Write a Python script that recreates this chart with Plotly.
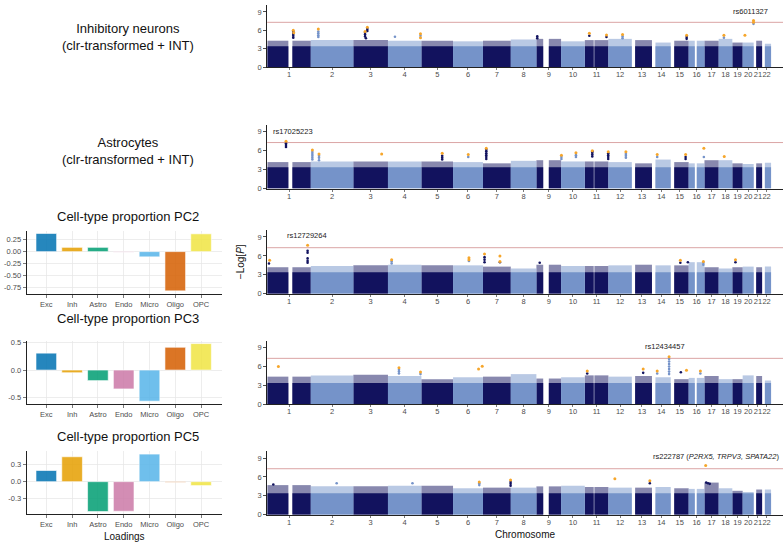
import plotly.graph_objects as go

W, H = 783, 549

# ---------------- data ----------------
chrom_labels = [str(i) for i in range(1, 23)]
chrom_len = [249.25, 243.2, 198.0, 191.15, 180.9, 171.1, 159.1, 146.4, 141.2, 135.5, 135.0,
             133.85, 115.2, 107.35, 102.5, 90.35, 81.2, 78.1, 59.1, 63.0, 48.1, 51.3]
# genotyped stretches per chromosome (Mb); gaps = centromeres / acrocentric arms
chrom_segments = [
    [(0.7, 121.0), (144.0, 249.2)], [(0.01, 243.2)], [(0.05, 198.0)], [(0.05, 191.1)],
    [(0.05, 180.9)], [(0.1, 171.1)], [(0.05, 159.1)], [(0.15, 146.4)],
    [(0.1, 39.0), (71.0, 141.2)], [(0.1, 135.5)], [(0.2, 51.0), (55.0, 135.0)], [(0.1, 133.8)],
    [(19.0, 115.2)], [(20.0, 107.3)], [(20.0, 102.5)], [(0.1, 35.0), (46.5, 90.3)],
    [(0.0, 81.2)], [(0.1, 78.1)], [(0.2, 59.1)], [(0.1, 63.0)], [(14.5, 48.1)], [(16.0, 51.3)],
]
dense_level = 3.4   # -log10 P up to which the cloud of SNPs is solid

fringe_inh = [4.3, 4.4, 4.4, 4.3, 4.3, 4.2, 4.3, 4.5, 4.6, 4.2, 4.4, 4.6, 4.4, 4.0, 4.3, 4.3, 4.3, 4.6, 4.0, 4.0, 4.3, 3.8]
fringe_ast = [4.2, 4.3, 4.3, 4.3, 4.3, 4.2, 4.0, 4.4, 4.5, 4.3, 4.3, 4.2, 4.0, 4.6, 4.2, 4.0, 4.5, 4.5, 4.0, 3.9, 4.0, 4.1]
fringe_pc2 = [4.2, 4.4, 4.5, 4.6, 4.5, 4.5, 4.3, 4.0, 4.6, 4.4, 4.4, 4.5, 4.6, 4.5, 4.5, 5.0, 4.2, 4.0, 4.2, 4.3, 4.2, 4.3]
fringe_pc3 = [4.4, 4.6, 4.7, 4.5, 4.0, 4.3, 4.4, 4.8, 4.1, 4.3, 4.6, 4.4, 4.5, 4.3, 4.0, 4.2, 4.5, 4.0, 4.0, 4.6, 4.5, 3.8]
fringe_pc5 = [4.7, 4.5, 4.5, 4.6, 4.6, 4.2, 4.3, 4.3, 4.5, 4.6, 4.4, 4.3, 4.3, 4.4, 4.2, 4.1, 5.1, 4.2, 3.8, 3.6, 4.0, 4.0]

# (chromosome, position Mb, -log10 P, lead SNP?)
peaks_inh = [
    (1, 149, 5.75, 0), (1, 149, 5.4, 0), (1, 149, 5.1, 0), (1, 149, 4.8, 0), (1, 149, 6.0, 1), (1, 152, 5.6, 1),
    (2, 43, 5.8, 0), (2, 43, 5.5, 0), (2, 43, 5.2, 0), (2, 43, 4.9, 0), (2, 43, 6.2, 1),
    (3, 67, 5.6, 0), (3, 67, 5.3, 0), (3, 67, 5.0, 0), (3, 80, 6.2, 0), (3, 80, 5.9, 0), (3, 72, 4.7, 0),
    (3, 80, 6.5, 1), (3, 67, 5.8, 1),
    (4, 40, 4.95, 0), (4, 186, 5.1, 0), (4, 186, 5.45, 1), (4, 186, 4.8, 1),
    (9, 5, 5.0, 0), (9, 5, 4.7, 0),
    (11, 26, 5.1, 0), (11, 26, 5.5, 1), (11, 124, 4.9, 0), (11, 124, 5.25, 1),
    (12, 81, 5.0, 0), (12, 81, 4.7, 0), (12, 81, 5.3, 1),
    (15, 91, 4.9, 0), (15, 91, 4.6, 0), (15, 91, 5.2, 1),
    (18, 30, 4.8, 0), (18, 30, 5.2, 1), (20, 13, 5.2, 1),
    (20, 62, 7.05, 0), (20, 62, 7.6, 1), (20, 62, 7.3, 1),
]
peaks_ast = [
    (1, 107.5, 7.2, 0), (1, 107.5, 6.9, 0), (1, 107.5, 6.6, 0), (1, 107.5, 7.5, 1),
    (2, 9, 5.8, 0), (2, 9, 5.5, 0), (2, 9, 5.2, 0), (2, 9, 4.9, 0), (2, 9, 4.6, 0), (2, 9, 6.1, 1),
    (2, 47, 5.2, 0), (2, 47, 4.9, 0), (2, 47, 4.5, 0), (2, 47, 5.5, 1),
    (3, 162, 5.5, 1),
    (5, 119, 5.2, 0), (5, 119, 4.9, 0), (5, 119, 4.6, 0), (5, 119, 5.6, 1),
    (6, 87, 5.0, 0), (6, 87, 5.4, 1),
    (7, 19, 6.15, 0), (7, 19, 5.9, 0), (7, 19, 5.6, 0), (7, 19, 5.3, 0), (7, 19, 5.0, 0), (7, 19, 4.7, 0), (7, 19, 6.4, 1),
    (10, 2, 5.0, 0), (10, 2, 4.7, 0), (10, 2, 5.3, 1),
    (10, 85, 5.3, 0), (10, 85, 5.0, 0), (10, 85, 5.7, 1),
    (11, 43, 5.9, 0), (11, 43, 5.7, 0), (11, 43, 5.4, 0), (11, 43, 5.1, 0), (11, 43, 6.0, 1),
    (11, 134, 5.6, 0), (11, 134, 5.3, 0), (11, 134, 5.0, 0), (11, 134, 4.7, 0), (11, 134, 5.85, 1),
    (12, 100, 5.5, 0), (12, 100, 5.2, 0), (12, 100, 4.9, 0), (12, 100, 5.85, 1),
    (14, 30, 5.0, 0), (14, 30, 5.4, 1),
    (15, 85, 5.0, 0), (15, 85, 4.7, 0), (15, 85, 5.4, 1),
    (16, 87, 5.0, 0), (16, 87, 6.4, 1), (18, 32, 5.1, 1),
]
peaks_pc2 = [
    (1, 10, 4.8, 0), (1, 14, 5.3, 1),
    (1, 231, 6.8, 0), (1, 231, 6.5, 0), (1, 231, 5.6, 0), (1, 231, 5.2, 0), (1, 231, 4.9, 0), (1, 231, 7.7, 1),
    (4, 21, 5.1, 0), (4, 21, 4.8, 0), (4, 21, 5.4, 1),
    (6, 91, 5.2, 0), (6, 91, 5.7, 1), (6, 91, 5.4, 1),
    (7, 9, 5.8, 0), (7, 9, 5.4, 0), (7, 9, 5.0, 0), (7, 9, 6.3, 1),
    (7, 97, 5.0, 0), (7, 97, 6.0, 1), (7, 97, 5.1, 1),
    (9, 19, 4.9, 0),
    (15, 55, 4.9, 0), (15, 55, 5.3, 1), (15, 98, 5.0, 0),
    (16, 84, 4.9, 0), (16, 84, 4.6, 0), (16, 84, 5.1, 1),
    (19, 18, 5.0, 0), (19, 18, 5.4, 1),
]
peaks_pc3 = [
    (1, 64, 6.0, 1),
    (4, 63, 5.5, 0), (4, 63, 5.2, 0), (4, 63, 4.9, 0), (4, 63, 5.8, 1),
    (4, 186, 4.8, 0), (4, 186, 5.15, 1),
    (6, 146, 5.6, 1), (6, 167, 6.05, 1),
    (11, 14, 4.9, 0), (11, 14, 5.3, 1),
    (13, 65, 5.0, 0), (13, 65, 5.6, 1),
    (14, 30, 4.9, 0), (14, 30, 5.3, 1),
    (14, 98, 7.2, 0), (14, 98, 6.8, 0), (14, 98, 6.4, 0), (14, 98, 6.0, 0), (14, 98, 5.6, 0),
    (14, 98, 5.2, 0), (14, 98, 4.8, 0), (14, 98, 7.55, 1),
    (15, 58, 5.1, 0), (15, 90, 5.4, 1),
    (16, 67, 4.9, 0), (16, 67, 5.3, 1),
]
peaks_pc5 = [
    (1, 35, 4.8, 0), (2, 148, 5.0, 0), (4, 140, 5.0, 0),
    (6, 150, 5.0, 0), (6, 150, 4.7, 0), (6, 150, 5.2, 1),
    (7, 158, 5.2, 0), (7, 158, 4.9, 0), (7, 158, 4.6, 0), (7, 158, 5.5, 1),
    (12, 37, 5.7, 1),
    (13, 103, 5.0, 0), (13, 103, 5.4, 1),
    (17, 10, 5.1, 0), (17, 20, 5.0, 0), (17, 30, 4.9, 0), (17, 7, 7.8, 1),
]
fringes = [fringe_inh, fringe_ast, fringe_pc2, fringe_pc3, fringe_pc5]
peaks = [peaks_inh, peaks_ast, peaks_pc2, peaks_pc3, peaks_pc5]
gw_threshold = 7.3
lead_labels = ["rs6011327", "rs17025223", "rs12729264", "rs12434457",
               "rs222787 (<i>P2RX5, TRPV3, SPATA22</i>)"]
row_titles = ["Inhibitory neurons<br>(clr-transformed + INT)", "Astrocytes<br>(clr-transformed + INT)"]

cell_types = ["Exc", "Inh", "Astro", "Endo", "Micro", "Oligo", "OPC"]
pc2 = [0.382, 0.09, 0.09, -0.01, -0.11, -0.826, 0.375]
pc3 = [0.304, -0.048, -0.19, -0.34, -0.56, 0.41, 0.476]
pc5 = [0.196, 0.438, -0.525, -0.52, 0.485, -0.01, -0.069]
pc_titles = ["Cell-type proportion PC2", "Cell-type proportion PC3", "Cell-type proportion PC5"]
pc_ticks = [[0.25, 0.0, -0.25, -0.5, -0.75], [0.5, 0.0, -0.5], [0.3, 0.0, -0.3]]
pc_ticktext = [["0.25", "0.00", "-0.25", "-0.50", "-0.75"], ["0.5", "0.0", "-0.5"], ["0.3", "0.0", "-0.3"]]
pc_ranges = [[-0.886, 0.442], [-0.612, 0.528], [-0.576, 0.536]]

# ---------------- styles / layout ----------------
FONT = "Liberation Sans, Arial, sans-serif"
DARK = "#12135f"
LIGHT = "#7593c9"
ORANGE = "#f6a62b"
CELL_COLORS = ["#0072B2", "#E69F00", "#009E73", "#CC79A7", "#56B4E9", "#D55E00", "#F0E442"]
AX = "#222222"
TICKC = "#4d4d4d"

def fx(p):
    return p / W

def fy(p):
    return 1 - p / H

man_x0 = 267.2
man_rows = [(2.2, 65.0), (123.7, 188.3), (230.4, 295.0), (342.7, 407.3), (454.7, 519.3)]
man_xrange = [0, (W - man_x0) / 0.1749]
bar_x = (26.7, 221.7)
bar_rows = [(231.0, 295.0), (342.7, 407.0), (454.8, 519.0)]
label_pos = [(750.5, 9), (293, 130.7), (306.7, 236), (665, 349)]
label5_right = (781, 460)
title_x = 128
row_title_y = [35, 150]
pc_title_y = [217, 320, 440]
fringe_opacity = 0.5

offsets = []
acc = 0.0
for L in chrom_len:
    offsets.append(acc)
    acc += L
centers = [o + L / 2 for o, L in zip(offsets, chrom_len)]

fig = go.Figure()
layout = dict(width=W, height=H, margin=dict(l=0, r=0, t=0, b=0), autosize=False,
              paper_bgcolor="white", plot_bgcolor="white", showlegend=False,
              barmode="overlay", font=dict(family=FONT, color="#000"))
shapes = []
annotations = []

for p in range(5):
    n = p + 1
    xa = "x" if n == 1 else f"x{n}"
    ya = "y" if n == 1 else f"y{n}"
    fr = fringes[p]
    for parity, col in [(0, DARK), (1, LIGHT)]:
        xs, ws, hfr = [], [], []
        for ci in range(22):
            if ci % 2 != parity:
                continue
            for a, b in chrom_segments[ci]:
                xs.append(offsets[ci] + (a + b) / 2)
                ws.append(b - a)
                hfr.append(fr[ci])
        # sparse upper fringe (drawn first, from 0 so no seam), then the solid core
        fig.add_trace(go.Bar(x=xs, y=hfr, width=ws, base=0, xaxis=xa, yaxis=ya,
                             marker=dict(color=col, line=dict(width=0)), opacity=fringe_opacity,
                             hoverinfo="skip"))
        fig.add_trace(go.Bar(x=xs, y=[dense_level] * len(xs), width=ws, base=0, xaxis=xa, yaxis=ya,
                             marker=dict(color=col, line=dict(width=0)), opacity=1.0,
                             hoverinfo="skip"))
    # peak points
    for lead in (0, 1):
        px_, py_, pc_ = [], [], []
        for c, pos, v, ld in peaks[p]:
            if ld != lead:
                continue
            px_.append(offsets[c - 1] + pos)
            py_.append(v)
            pc_.append(ORANGE if ld else (DARK if (c - 1) % 2 == 0 else LIGHT))
        fig.add_trace(go.Scatter(x=px_, y=py_, mode="markers", xaxis=xa, yaxis=ya,
                                 marker=dict(color=pc_, size=3.0 if lead else 2.6, line=dict(width=0)),
                                 hoverinfo="skip"))
    top, bot = man_rows[p]
    axkey = "xaxis" if n == 1 else f"xaxis{n}"
    aykey = "yaxis" if n == 1 else f"yaxis{n}"
    layout[axkey] = dict(domain=[fx(man_x0), 1], range=man_xrange, anchor=ya,
                         tickmode="array", tickvals=centers, ticktext=chrom_labels, tickangle=0,
                         showgrid=False, zeroline=False, showline=True, linecolor=AX, linewidth=1,
                         ticks="outside", ticklen=2, tickcolor=AX, tickwidth=0.6,
                         ticklabelstandoff=-2,
                         tickfont=dict(size=7.5, color=TICKC, family=FONT))
    layout[aykey] = dict(domain=[fy(bot), fy(top)], range=[0, 10.1], anchor=xa,
                         tickmode="array", tickvals=[0, 3, 6, 9],
                         showgrid=False, zeroline=False, showline=True, linecolor=AX, linewidth=1,
                         ticks="outside", ticklen=3, tickcolor=AX, tickwidth=0.8,
                         tickfont=dict(size=7.5, color=TICKC, family=FONT))
    shapes.append(dict(type="line", xref=f"{xa} domain", yref=ya, x0=0, x1=1,
                       y0=gw_threshold, y1=gw_threshold, line=dict(color="#dba5a5", width=1.0),
                       layer="below"))
    if p < 4:
        lx, ly = label_pos[p]
        annotations.append(dict(text=lead_labels[p], x=fx(lx), y=fy(ly), xref="paper", yref="paper",
                                showarrow=False, xanchor="center", yanchor="middle",
                                font=dict(size=7.5, color="#222", family=FONT)))
    else:
        lx, ly = label5_right
        annotations.append(dict(text=lead_labels[p], x=fx(lx), y=fy(ly), xref="paper", yref="paper",
                                showarrow=False, xanchor="right", yanchor="middle",
                                font=dict(size=7.5, color="#222", family=FONT)))

# loading bar charts
pcs = [pc2, pc3, pc5]
for j in range(3):
    n = 6 + j
    xa, ya = f"x{n}", f"y{n}"
    fig.add_trace(go.Bar(x=list(range(len(cell_types))), y=pcs[j], xaxis=xa, yaxis=ya, width=0.8,
                         marker=dict(color=CELL_COLORS, line=dict(color="white", width=0.6)),
                         opacity=0.85, hoverinfo="skip"))
    top, bot = bar_rows[j]
    layout[f"xaxis{n}"] = dict(domain=[fx(bar_x[0]), fx(bar_x[1])], range=[-0.76, 6.8], anchor=ya,
                               tickmode="array", tickvals=list(range(7)), ticktext=cell_types, tickangle=0,
                               showgrid=True, gridcolor="#e6e6e6", gridwidth=0.7, zeroline=False,
                               showline=True, linecolor=AX, linewidth=1,
                               ticks="outside", ticklen=3, tickcolor=AX, tickwidth=0.6,
                               tickfont=dict(size=7.5, color=TICKC, family=FONT))
    layout[f"yaxis{n}"] = dict(domain=[fy(bot), fy(top)], range=pc_ranges[j], anchor=xa,
                               tickmode="array", tickvals=pc_ticks[j], ticktext=pc_ticktext[j],
                               showgrid=True, gridcolor="#e6e6e6", gridwidth=0.7, zeroline=False,
                               showline=True, linecolor=AX, linewidth=1,
                               ticks="outside", ticklen=3, tickcolor=AX, tickwidth=0.6,
                               tickfont=dict(size=7.5, color=TICKC, family=FONT))
    annotations.append(dict(text=pc_titles[j], x=fx(title_x), y=fy(pc_title_y[j]), xref="paper",
                            yref="paper", showarrow=False, xanchor="center", yanchor="middle",
                            font=dict(size=13, color="#111", family=FONT)))

for t, yy in zip(row_titles, row_title_y):
    annotations.append(dict(text=t, x=fx(title_x), y=fy(yy), xref="paper", yref="paper",
                            showarrow=False, xanchor="center", yanchor="middle",
                            font=dict(size=13, color="#111", family=FONT)))

annotations.append(dict(text="Chromosome", x=fx((man_x0 + W) / 2), y=fy(539), xref="paper",
                        yref="paper", showarrow=False, xanchor="center", yanchor="middle",
                        font=dict(size=10, color="#111", family=FONT)))
annotations.append(dict(text="Loadings", x=fx(124), y=fy(541), xref="paper", yref="paper",
                        showarrow=False, xanchor="center", yanchor="middle",
                        font=dict(size=10, color="#111", family=FONT)))
annotations.append(dict(text="\u2212Log[<i>P</i>]", x=fx(240), y=fy(262), xref="paper", yref="paper",
                        showarrow=False, xanchor="center", yanchor="middle", textangle=-90,
                        font=dict(size=10, color="#111", family=FONT)))

layout["shapes"] = shapes
layout["annotations"] = annotations
fig.update_layout(**layout)
fig.write_html("out.html", config={"displayModeBar": False, "staticPlot": True},
               post_script="document.body.style.margin='0';document.body.style.overflow='hidden';")
